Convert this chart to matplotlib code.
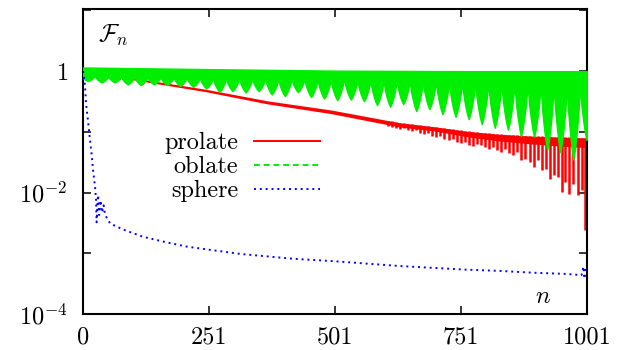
import numpy as np
import matplotlib.pyplot as plt
from matplotlib.lines import Line2D

plt.rcParams['font.family'] = 'serif'
plt.rcParams['font.serif'] = ['cmr10']
plt.rcParams['mathtext.fontset'] = 'cm'
plt.rcParams['axes.unicode_minus'] = False
plt.rcParams['font.size'] = 17.5

# ---------------- oblate (green): lobes of the oscillation ----------------
lobe_n = [10, 37, 63, 89, 115, 141, 167, 193, 219, 245, 271, 297, 323, 349,
          375, 401, 427, 453, 479, 505, 532, 558, 584, 610, 636, 662, 688, 714,
          740, 766, 792, 818, 844, 870, 896, 922, 948, 974, 1000]
lobe_min = [0.687, 0.653, 0.653, 0.605, 0.590, 0.605, 0.590, 0.568, 0.553, 0.520,
            0.457, 0.469, 0.447, 0.469, 0.414, 0.388, 0.452, 0.374, 0.353, 0.333,
            0.340, 0.321, 0.276, 0.259, 0.286, 0.220, 0.237, 0.196, 0.177, 0.162,
            0.134, 0.117, 0.109, 0.085, 0.083, 0.050, 0.046, 0.035, 0.073]
oblate_top_n = [0, 250, 500, 750, 1001]
oblate_top = [1.15, 1.08, 1.02, 1.0, 1.0]
oblate_notch = [0.84, 0.80, 0.77, 0.75, 0.74]

# ---------------- prolate (red): band edges and downward spikes (log10) ----------------
prolate_n = [0, 54, 245, 367, 493, 629, 702, 762, 827, 893, 960, 1001]
prolate_hi = [0.02, -0.05, -0.30, -0.49, -0.64, -0.85, -0.92, -0.99, -1.04, -1.07, -1.09, -1.10]
prolate_lo = [-0.01, -0.08, -0.34, -0.54, -0.70, -0.92, -0.99, -1.08, -1.15, -1.20, -1.24, -1.26]
spike_n = [606, 614, 622, 630, 638, 646, 654, 662, 670, 678, 686, 694, 702, 710,
           718, 726, 734, 742, 750, 758, 766, 774, 782, 790, 798, 806, 814, 822,
           830, 838, 846, 854, 862, 870, 878, 887, 895, 903, 911, 919, 927, 935,
           943, 951, 958, 966, 974, 983, 991, 998]
spike_log = [-0.906, -0.922, -0.939, -0.955, -0.939, -0.972, -0.988, -0.972, -1.021,
             -1.038, -1.021, -1.071, -1.087, -1.071, -1.120, -1.137, -1.120, -1.170,
             -1.187, -1.170, -1.220, -1.236, -1.203, -1.220, -1.248, -1.274, -1.248,
             -1.302, -1.330, -1.290, -1.356, -1.384, -1.330, -1.467, -1.439, -1.495,
             -1.578, -1.467, -1.632, -1.604, -1.769, -1.714, -1.742, -1.990, -1.825,
             -2.016, -1.851, -2.045, -1.962, -2.622]

# ---------------- sphere (blue) ----------------
sphere_n = [0, 4, 6, 10.5, 14, 17, 20, 24, 26, 27, 30, 32, 35, 38, 41, 44, 54, 80,
            120, 166, 206, 258, 312, 364, 417, 497, 563, 629, 695, 761, 827, 893,
            960, 990, 994, 996, 998]
sphere_log = [0.0, -0.23, -0.53, -0.86, -1.14, -1.36, -1.63, -1.91, -2.13, -2.49,
              -2.04, -2.37, -2.13, -2.33, -2.21, -2.37, -2.51, -2.61, -2.73, -2.82,
              -2.89, -2.95, -3.01, -3.05, -3.09, -3.13, -3.17, -3.21, -3.24, -3.27,
              -3.29, -3.32, -3.34, -3.36, -3.22, -3.42, -3.25]

xticks = [0, 251, 501, 751, 1001]
yticks = [1e-4, 1e-3, 1e-2, 1e-1, 1, 10]
ylabels = [r'$10^{-4}$', '', r'$10^{-2}$', '', r'$1$', '']

RED, GREEN, BLUE = '#ff0000', '#00ee00', '#0000ff'

fig = plt.figure(figsize=(6.33, 3.5), dpi=100)
ax = fig.add_axes([0.1311, 0.1029, 0.7962, 0.8700])
ax.set_yscale('log')

# prolate: band + downward spikes
ax.fill_between(prolate_n, 10 ** np.array(prolate_lo), 10 ** np.array(prolate_hi),
                color=RED, lw=0, zorder=2)
spike_top = 10 ** np.interp(spike_n, prolate_n, prolate_hi)
ax.vlines(spike_n, 10 ** np.array(spike_log), spike_top, color=RED, lw=1.8, zorder=2)

# oblate: teardrop lobes hanging from the top band
half = 13.0
offs = [-1.0, -0.9, -0.75, -0.5, -0.25, 0.0, 0.25, 0.5, 0.75, 0.9]
frac = [0.0, 0.25, 0.45, 0.68, 0.87, 1.0, 0.87, 0.68, 0.45, 0.25]
low_n, low_f = [], []
for c, m in zip(lobe_n, lobe_min):
    notch = np.log10(np.interp(c, oblate_top_n, oblate_notch))
    for o, f in zip(offs, frac):
        low_n.append(c + o * half)
        low_f.append(10 ** (notch + f * (np.log10(m) - notch)))
low_n.append(lobe_n[-1] + half)
low_f.append(low_f[0])
top_interp = np.interp(low_n, oblate_top_n, oblate_top)
ax.fill_between(low_n, low_f, top_interp, color=GREEN, lw=1.0, zorder=3)

# sphere
ax.plot(sphere_n, 10 ** np.array(sphere_log), color=BLUE, lw=1.4,
        dashes=(1, 2), zorder=4)

ax.set_xlim(0, 1001)
ax.set_ylim(1e-4, 10 ** 1.016)
ax.set_xticks(xticks)
ax.set_xticklabels([str(t) for t in xticks])
ax.set_yticks(yticks)
ax.set_yticklabels(ylabels)
ax.minorticks_off()
ax.tick_params(direction='in', length=5.8, width=1.1, top=True, right=True)
ax.tick_params(axis='x', pad=9)
ax.tick_params(axis='y', pad=11)
for s in ax.spines.values():
    s.set_linewidth(1.5)

ax.text(0.03, 0.914, r'$\mathcal{F}_n$', transform=ax.transAxes,
        ha='left', va='center')
ax.text(0.913, 0.056, r'$n$', transform=ax.transAxes,
        ha='center', va='center')

handles = [Line2D([], [], color=RED, lw=1.4),
           Line2D([], [], color=GREEN, lw=1.4, dashes=(3, 2)),
           Line2D([], [], color=BLUE, lw=1.4, dashes=(1, 2))]
fig.legend(handles, ['prolate', 'oblate', 'sphere'], loc='upper right',
           bbox_to_anchor=(0.5055, 0.623), frameon=False, markerfirst=False,
           handlelength=2.7, handletextpad=0.66, labelspacing=0.08,
           borderpad=0, borderaxespad=0)

fig.savefig('out.png', dpi=100)
